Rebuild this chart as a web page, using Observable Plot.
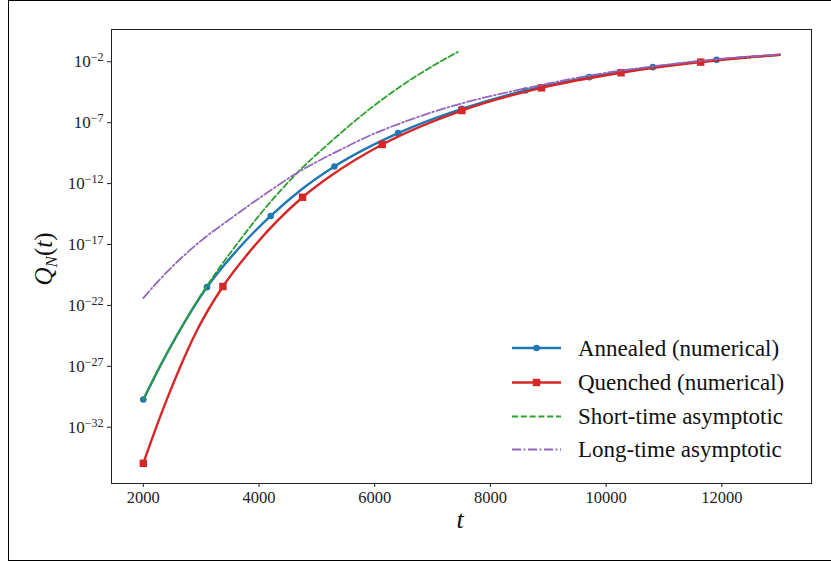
<!DOCTYPE html>
<html><head><meta charset="utf-8">
<script src="https://cdn.jsdelivr.net/npm/d3@7"></script>
<script src="https://cdn.jsdelivr.net/npm/@observablehq/plot@0.6"></script>
<style>
body{margin:0;background:#fff;overflow:hidden}
#wrap{position:relative;width:831px;height:561px;overflow:hidden;background:#fff}
#border{position:absolute;left:8px;top:0;width:900px;height:561px;border:1.3px solid #000;box-sizing:border-box}
#wrap svg{position:absolute;left:0;top:0}
</style></head><body><div id="wrap"><div id="border"></div></div>
<script>
// ---- data (log10 of Q_N(t)) ----
const annealedT   = [2000, 2300, 2600, 2850, 3101, 3623, 4202, 4717, 5303, 6404, 7505, 8606, 9707, 10808, 11909, 13000];
const annealedLog = [-29.73, -26.9, -24.3, -22.3, -20.5, -17.45, -14.66, -12.55, -10.6, -7.86, -5.87, -4.36, -3.26, -2.44, -1.84, -1.43];
const annealedMarkT   = [2000, 3101, 4202, 5303, 6404, 7505, 8606, 9707, 10808, 11909];
const annealedMarkLog = [-29.73, -20.5, -14.66, -10.6, -7.86, -5.87, -4.36, -3.26, -2.44, -1.84];

const quenchedT   = [2000, 2200, 2400, 2615, 2933, 3376, 3853, 4753, 5235, 6129, 7506, 8882, 10258, 11635, 13000];
const quenchedLog = [-34.96, -32.3, -29.8, -27.3, -24.0, -20.45, -17.5, -13.12, -11.38, -8.79, -6.0, -4.14, -2.9, -2.03, -1.42];
const quenchedMarkT   = [2000, 3376, 4753, 6129, 7506, 8882, 10258, 11635];
const quenchedMarkLog = [-34.96, -20.45, -13.12, -8.79, -6.0, -4.14, -2.9, -2.03];

const shortT   = [2000, 2300, 2600, 2850, 3105, 3594, 4055, 4631, 5292, 5869, 6444, 7019, 7433];
const shortLog = [-29.73, -26.9, -24.3, -22.25, -20.35, -17.12, -14.31, -11.26, -8.35, -6.04, -4.03, -2.3, -1.2];

const longT   = [2000, 2250, 2500, 2750, 2990, 3560, 4201, 4631, 5523, 5869, 6444, 7019, 7596, 8689, 9725, 10831, 11936, 13000];
const longLog = [-21.4, -20.05, -18.82, -17.7, -16.72, -14.7, -12.55, -11.2, -8.95, -8.15, -7.05, -6.1, -5.3, -4.1, -3.12, -2.36, -1.78, -1.40];

const xTicks = [2000, 4000, 6000, 8000, 10000, 12000];
const yTickExps = [-32, -27, -22, -17, -12, -7, -2];

const seriesNames = ["Annealed (numerical)", "Quenched (numerical)", "Short-time asymptotic", "Long-time asymptotic"];
const colors = ["#1f77b4", "#d62728", "#2ca02c", "#9467bd"];

const rows = (T, L) => T.map((t, i) => ({t, q: Math.pow(10, L[i])}));
const annealed = rows(annealedT, annealedLog);
const annealedM = rows(annealedMarkT, annealedMarkLog);
const quenched = rows(quenchedT, quenchedLog);
const quenchedM = rows(quenchedMarkT, quenchedMarkLog);
const shortA = rows(shortT, shortLog);
const longA = rows(longT, longLog);

const serif = "'Liberation Serif', 'DejaVu Serif', serif";
const dashShort = "6,2.8";
const dashLong = "9,2.6,1.8,2.6";
const curve = "monotone-x";

const svg = Plot.plot({
  width: 831, height: 561,
  marginLeft: 111, marginRight: 20, marginTop: 29, marginBottom: 78,
  style: {fontFamily: serif, fontSize: "16.5px", color: "#222", background: "transparent"},
  x: {domain: [1450, 13550]},
  y: {type: "log", domain: [Math.pow(10, -36.62), Math.pow(10, 0.65)]},
  marks: [
    Plot.axisX({ticks: xTicks, tickSize: 4, tickPadding: 4, label: null, tickFormat: d => String(d)}),
    Plot.axisY({ticks: yTickExps.map(e => Math.pow(10, e)), tickSize: 4, tickPadding: 4, fontSize: 17, label: null,
      tickFormat: d => "10^\u2212" + Math.abs(Math.round(Math.log10(d)))}),
    Plot.line(annealed, {x: "t", y: "q", stroke: colors[0], strokeWidth: 2.4, curve}),
    Plot.dot(annealedM, {x: "t", y: "q", r: 3.3, fill: colors[0], stroke: "none"}),
    Plot.line(quenched, {x: "t", y: "q", stroke: colors[1], strokeWidth: 2.4, curve}),
    Plot.dot(quenchedM, {x: "t", y: "q", symbol: "square", r: 4.2, fill: colors[1], stroke: "none"}),
    Plot.line(shortA, {x: "t", y: "q", stroke: colors[2], strokeWidth: 1.8, strokeDasharray: dashShort, curve}),
    Plot.line(longA, {x: "t", y: "q", stroke: colors[3], strokeWidth: 1.8, strokeDasharray: dashLong, curve}),
    Plot.frame({stroke: "#222", strokeWidth: 1})
  ]
});
document.getElementById("wrap").appendChild(svg);

const S = d3.select(svg);
// superscript tick labels
S.selectAll('g[aria-label="y-axis tick label"] text').each(function() {
  const s = this.textContent;
  const parts = s.split("^");
  const t = d3.select(this);
  t.text(null);
  t.append("tspan").text(parts[0]);
  t.append("tspan").attr("dy", "-0.5em").attr("font-size", "12px").text(parts[1]);
});

// axis titles
const yl = S.append("text").attr("transform", "translate(52,259) rotate(-90)")
  .attr("text-anchor", "middle").attr("font-family", serif).attr("font-size", 25).attr("fill", "#111");
yl.append("tspan").attr("font-style", "italic").text("Q");
yl.append("tspan").attr("font-style", "italic").attr("font-size", 17).attr("dy", 5).text("N");
yl.append("tspan").attr("dy", -5).text("(");
yl.append("tspan").attr("font-style", "italic").text("t");
yl.append("tspan").text(")");

S.append("text").attr("x", 460).attr("y", 528).attr("text-anchor", "middle")
  .attr("font-family", serif).attr("font-size", 26).attr("font-style", "italic").attr("fill", "#111").text("t");

// legend
const legY = [348, 382.5, 416.5, 449.5];
const lg = S.append("g").attr("text-anchor", "start");
seriesNames.forEach((name, i) => {
  const y = legY[i];
  const ln = lg.append("line").attr("x1", 512).attr("x2", 561).attr("y1", y).attr("y2", y)
    .attr("stroke", colors[i]).attr("stroke-width", i < 2 ? 2.4 : 1.8);
  if (i === 2) ln.attr("stroke-dasharray", dashShort);
  if (i === 3) ln.attr("stroke-dasharray", dashLong);
  if (i === 0) lg.append("circle").attr("cx", 536.5).attr("cy", y).attr("r", 3.3).attr("fill", colors[i]);
  if (i === 1) lg.append("rect").attr("x", 536.5 - 3.7).attr("y", y - 3.7).attr("width", 7.4).attr("height", 7.4).attr("fill", colors[i]);
  lg.append("text").attr("x", 578).attr("y", y).attr("dy", "0.33em").attr("text-anchor", "start").attr("font-family", serif)
    .attr("font-size", 23).attr("fill", "#111").text(name);
});
</script>
</body></html>
